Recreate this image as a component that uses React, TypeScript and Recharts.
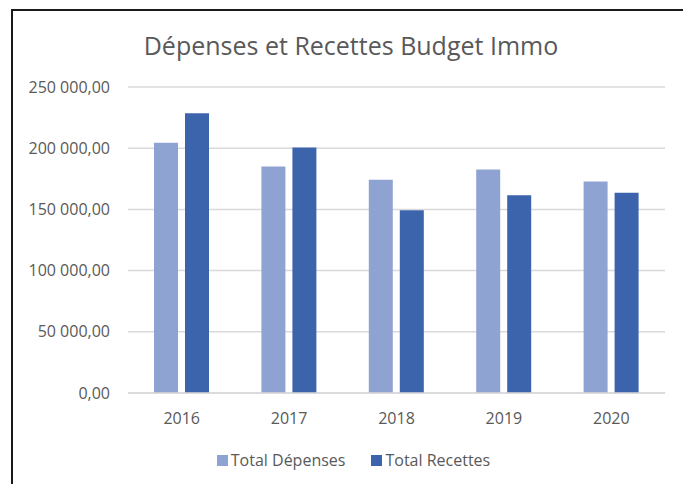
import React from 'react';
import { BarChart, Bar, XAxis, YAxis, CartesianGrid, Legend } from 'recharts';

const years = ['2016', '2017', '2018', '2019', '2020'];
const totalDepenses = [204500, 185000, 174300, 182700, 172700];
const totalRecettes = [228600, 200500, 149400, 161500, 163700];
const yTicks = [0, 50000, 100000, 150000, 200000, 250000];

const data = years.map((year, i) => ({
  year,
  depenses: totalDepenses[i],
  recettes: totalRecettes[i],
}));

const FONT = '"Open Sans", sans-serif';
const TEXT = '#595959';
const GRID = '#d9d9d9';

function formatAmount(v: number) {
  const [int, dec] = v.toFixed(2).split('.');
  return int.replace(/\B(?=(\d{3})+(?!\d))/g, ' ') + ',' + dec;
}

function renderLegend(props: any) {
  const { payload } = props;
  return (
    <div
      style={{
        display: 'flex',
        justifyContent: 'center',
        gap: 26,
        paddingLeft: 24,
        fontFamily: FONT,
        fontSize: 16,
        color: TEXT,
      }}
    >
      {payload.map((entry: any) => (
        <div key={entry.value} style={{ display: 'flex', alignItems: 'center' }}>
          <span style={{ width: 11, height: 11, background: entry.color, marginRight: 3, display: 'inline-block' }} />
          <span>{entry.value}</span>
        </div>
      ))}
    </div>
  );
}

export default function App() {
  return (
    <div style={{ position: 'fixed', inset: 0, background: '#fff', fontFamily: FONT }}>
      <div
        style={{
          position: 'absolute',
          left: 11,
          top: 9,
          right: 0,
          bottom: 0,
          borderTop: '2px solid #1a1a1a',
          borderLeft: '2px solid #1a1a1a',
        }}
      />
      <div
        style={{
          position: 'absolute',
          top: 33,
          left: 0,
          width: 702,
          textAlign: 'center',
          fontSize: 25,
          lineHeight: '25px',
          color: TEXT,
        }}
      >
        Dépenses et Recettes Budget Immo
      </div>
      <div style={{ position: 'absolute', left: 0, top: 0 }}>
        <BarChart
          width={683}
          height={484}
          data={data}
          margin={{ top: 87, right: 18, bottom: 39, left: 10 }}
          barSize={24}
          barGap={7}
        >
          <CartesianGrid vertical={false} stroke={GRID} strokeWidth={1.5} />
          <XAxis
            dataKey="year"
            axisLine={{ stroke: GRID, strokeWidth: 1.5 }}
            tickLine={false}
            tickMargin={14}
            tick={{ fill: TEXT, fontSize: 16, fontFamily: FONT }}
          />
          <YAxis
            width={118}
            domain={[0, 250000]}
            ticks={yTicks}
            axisLine={false}
            tickLine={false}
            tickMargin={12}
            tickFormatter={formatAmount}
            tick={{ fill: TEXT, fontSize: 16, fontFamily: FONT }}
          />
          <Legend
            content={renderLegend}
            wrapperStyle={{ top: 449, left: 0, width: 683 }}
          />
          <Bar dataKey="depenses" name="Total Dépenses" fill="#8fa3d3" isAnimationActive={false} />
          <Bar dataKey="recettes" name="Total Recettes" fill="#3c64ad" isAnimationActive={false} />
        </BarChart>
      </div>
    </div>
  );
}
